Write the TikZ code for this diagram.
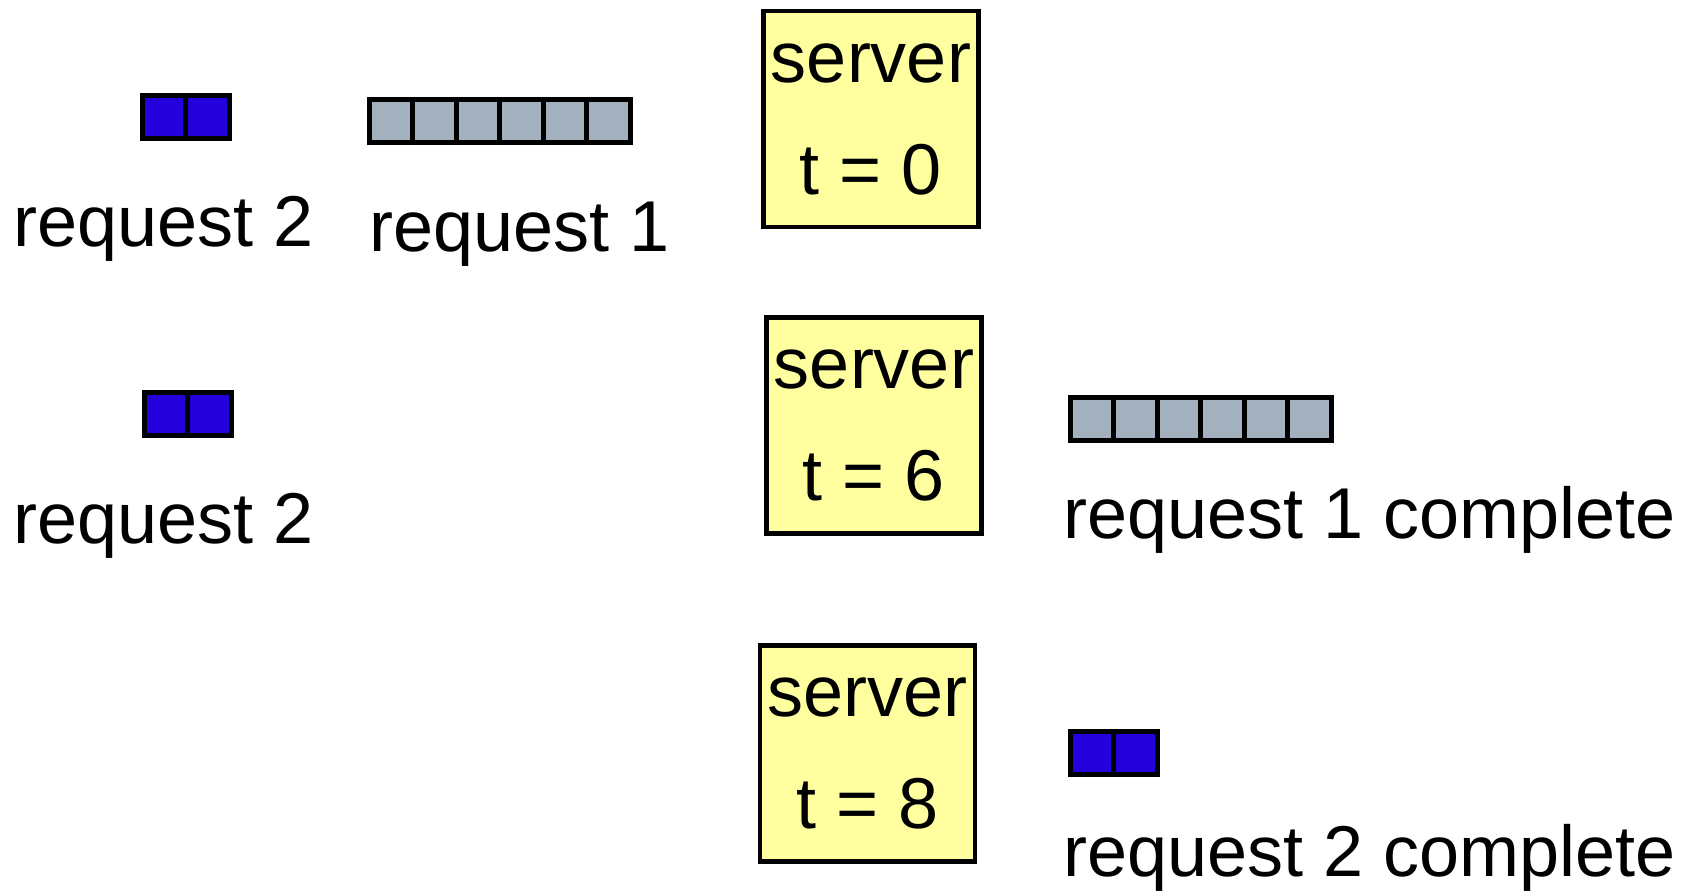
\documentclass[tikz,border=0pt]{standalone}
\usepackage{fontspec}
\setmainfont{Liberation Sans}
\usepackage{tikz}
\usetikzlibrary{positioning}
\definecolor{srvbg}{HTML}{FFFFA0}
\definecolor{slowreq}{HTML}{A3B1BF}
\definecolor{fastreq}{HTML}{2400DC}

\begin{document}
\begin{tikzpicture}[x=1pt, y=-1pt,
  cell/.style={draw, line width=5pt, inner sep=0pt, outer sep=0pt,
    minimum width=43.5pt, minimum height=43pt},
  slowcell/.style={cell, fill=slowreq},
  fastcell/.style={cell, fill=fastreq},
  serverbox/.style={draw, line width=4.5pt, fill=srvbg, inner sep=0pt,
    minimum width=215pt, minimum height=216pt},
  lbl/.style={font=\fontsize{72}{86}\selectfont, inner sep=0pt}]
  \useasboundingbox (0,0) rectangle (1695,891);

  % t = 0: both requests waiting
  \node[fastcell] (waitA1) at (164,117) {};
  \node[fastcell, right=0pt of waitA1] (waitA2) {};
  \node[slowcell] (slowA1) at (391,121) {};
  \foreach \i [evaluate=\i as \j using int(\i-1)] in {2,...,6} {
    \node[slowcell, right=0pt of slowA\j] (slowA\i) {};
  }
  \node[lbl, anchor=base west] (waitAtxt) at (13.5,246) {request 2};
  \node[lbl, anchor=base west] (slowAtxt) at (369,251) {request 1};
  \node[serverbox] (srvA) at (871,119) {};
  \node[lbl, anchor=base] (srvAname) at ([yshift=37pt]srvA.center) {server};
  \node[lbl, anchor=base] (srvAtime) at ([yshift=-75pt]srvA.center) {t = 0};

  % t = 6: request 1 done
  \node[fastcell] (waitB1) at (166,413.5) {};
  \node[fastcell, right=0pt of waitB1] (waitB2) {};
  \node[lbl, anchor=base west] (waitBtxt) at (13.5,543) {request 2};
  \node[serverbox] (srvB) at (874,425.5) {};
  \node[lbl, anchor=base] (srvBname) at ([yshift=37pt]srvB.center) {server};
  \node[lbl, anchor=base] (srvBtime) at ([yshift=-75pt]srvB.center) {t = 6};
  \node[slowcell] (doneB1) at (1092,419) {};
  \foreach \i [evaluate=\i as \j using int(\i-1)] in {2,...,6} {
    \node[slowcell, right=0pt of doneB\j] (doneB\i) {};
  }
  \node[lbl, anchor=base west] (doneBtxt) at (1063.5,538) {request 1 complete};

  % t = 8: request 2 done
  \node[serverbox] (srvC) at (867.5,753.5) {};
  \node[lbl, anchor=base] (srvCname) at ([yshift=37pt]srvC.center) {server};
  \node[lbl, anchor=base] (srvCtime) at ([yshift=-75pt]srvC.center) {t = 8};
  \node[fastcell] (doneC1) at (1092,753) {};
  \node[fastcell, right=0pt of doneC1] (doneC2) {};
  \node[lbl, anchor=base west] (doneCtxt) at (1063.5,876) {request 2 complete};
\end{tikzpicture}
\end{document}
